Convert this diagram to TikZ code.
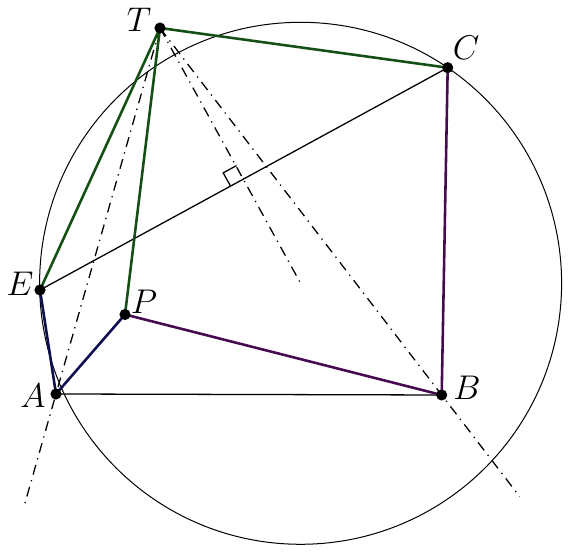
\documentclass[tikz,border=0pt]{standalone}
\usetikzlibrary{calc}
\definecolor{dgreen}{RGB}{20,80,20}
\definecolor{dpurple}{RGB}{70,10,80}
\definecolor{dblue}{RGB}{15,15,80}
\begin{document}
\begin{tikzpicture}[x=0.35pt,y=-0.35pt,
  thinline/.style={line width=0.45pt},
  circline/.style={line width=0.35pt},
  dd/.style={line width=0.45pt,dash pattern=on 3.5pt off 2pt on 0.45pt off 2pt},
  gline/.style={line width=0.9pt,draw=dgreen},
  pline/.style={line width=0.9pt,draw=dpurple},
  bline/.style={line width=0.9pt,draw=dblue},
  pt/.style={circle,fill=black,inner sep=0pt,minimum size=3.9pt},
  lab/.style={inner sep=0pt,font=\fontsize{12.5}{15}\selectfont}]
\useasboundingbox (0,0) rectangle (572,552);
\coordinate (T) at (160,28);
\coordinate (C) at (447.7,67.7);
\coordinate (E) at (40,290);
\coordinate (P) at (125,314.5);
\coordinate (A) at (56,394);
\coordinate (B) at (441.7,395);
\coordinate (O) at (300.6,283.3);
% circle
\draw[circline] (O) circle[radius=261];
% thin lines
\draw[thinline] (A) -- (B);
\draw[thinline] (E) -- (C);
% dash-dot lines
\draw[dd] (T) -- ($(T)!1.31!(A)$);
\draw[dd] (T) -- ($(T)!1.277!(B)$);
\draw[dd] (T) -- (O);
% right angle mark
\coordinate (M) at ($(E)!0.5!(C)$);
\coordinate (M1) at ($(M)!5.3pt!(E)$);
\coordinate (M2) at ($(M)!5.3pt!(T)$);
\draw[thinline] (M1) -- ($(M1)+(M2)-(M)$) -- (M2);
% coloured lines
\draw[gline] (E) -- (T) -- (C);
\draw[gline] (T) -- (P);
\draw[pline] (P) -- (B) -- (C);
\draw[bline] (E) -- (A) -- (P);
% points
\foreach \p in {T,C,E,P,A,B} \node[pt] (n\p) at (\p) {};
% labels
\node[lab] (lT) at (139,20) {$T$};
\node[lab] (lC) at (466,48) {$C$};
\node[lab] (lE) at (20,284) {$E$};
\node[lab] (lP) at (144,302) {$P$};
\node[lab] (lA) at (33,396) {$A$};
\node[lab] (lB) at (467,388) {$B$};
\end{tikzpicture}
\end{document}
